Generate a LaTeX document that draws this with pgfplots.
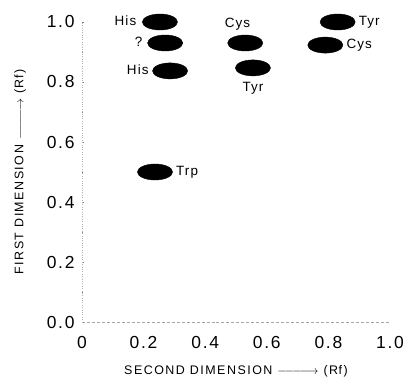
\documentclass[border=0pt]{standalone}
\usepackage{fontspec}
\setmainfont{Liberation Sans}
\newfontfamily\tickfont[LetterSpace=10]{Liberation Sans}
\newfontfamily\spotfont[LetterSpace=8]{Liberation Sans}
\newfontfamily\labelfont[LetterSpace=12]{Liberation Sans}
\usepackage{pgfplots}
\pgfplotsset{compat=1.18}
\newcommand{\longarrow}{$\relbar\joinrel\relbar\joinrel\relbar\joinrel\longrightarrow$}
\begin{document}
\begin{tikzpicture}
% fixed page frame around the 308bp x 300bp plot area
\useasboundingbox (-82bp,-59bp) rectangle (326bp,322bp);
\begin{axis}[
  scale only axis,
  width=308bp, height=300bp,
  xmin=0, xmax=1, ymin=0, ymax=1,
  axis x line*=bottom, axis y line*=left,
  x axis line style={gray!70, densely dashed, -},
  y axis line style={gray!60, dotted, -},
  xtick={0,0.2,0.4,0.6,0.8,1.0},
  ytick={0,0.2,0.4,0.6,0.8,1.0},
  minor ytick={0.1,0.3,0.5,0.7,0.9},
  xticklabels={0,0.2,0.4,0.6,0.8,1.0},
  yticklabels={0.0,0.2,0.4,0.6,0.8,1.0},
  tick style={gray, thin},
  major tick length=2bp, minor tick length=1.5bp,
  xtick style={draw=none},
  tick label style={font=\tickfont\fontsize{17.5}{20}\selectfont},
  /pgf/number format/assume math mode=true,
  xticklabel style={yshift=-11bp},
  yticklabel style={xshift=-4bp},
  xlabel={\labelfont\fontsize{12.5}{14}\selectfont SECOND DIMENSION \longarrow\ (R\kern0.5pt f)},
  ylabel={\labelfont\fontsize{12.5}{14}\selectfont FIRST DIMENSION \longarrow\ (R\kern0.5pt f)},
  xlabel style={yshift=-10bp},
  ylabel style={yshift=14bp},
  clip=false,
]
% chromatography spots (second dimension Rf, first dimension Rf)
\addplot[only marks, mark=*, mark size=8bp, mark options={xscale=2.2, fill=black, draw=black}]
  coordinates {
    (0.253,1.000) % His
    (0.270,0.930) % ?
    (0.286,0.837) % His
    (0.530,0.930) % Cys
    (0.555,0.847) % Tyr
    (0.830,1.000) % Tyr
    (0.790,0.923) % Cys
    (0.237,0.500) % Trp
  };
\begin{scope}[every node/.style={font=\spotfont\fontsize{13.5}{15}\selectfont, inner sep=1pt}]
\node[anchor=east] at (axis cs:0.180,1.005) {His};
\node[anchor=east] at (axis cs:0.200,0.935) {?};
\node[anchor=east] at (axis cs:0.220,0.842) {His};
\node at (axis cs:0.505,0.993) {Cys};
\node at (axis cs:0.555,0.780) {Tyr};
\node[anchor=west] at (axis cs:0.895,1.000) {Tyr};
\node[anchor=west] at (axis cs:0.855,0.923) {Cys};
\node[anchor=west] at (axis cs:0.302,0.500) {Trp};
\end{scope}
\end{axis}
\end{tikzpicture}
\end{document}
